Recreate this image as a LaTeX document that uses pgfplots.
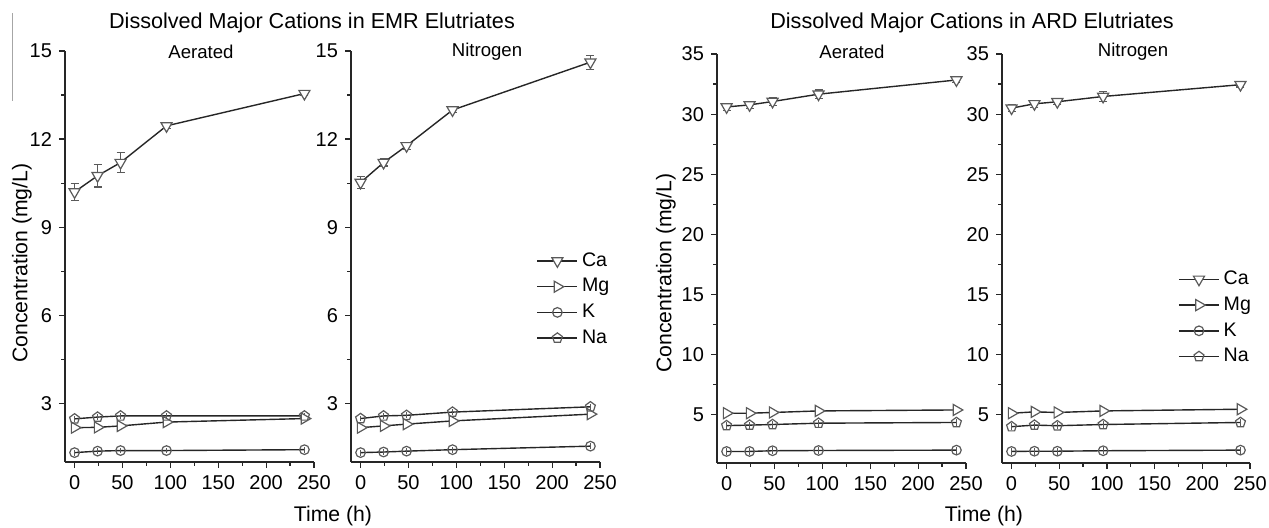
\documentclass[border=0pt]{standalone}
\usepackage{fontspec}
\setmainfont{Liberation Sans}
\usepackage{pgfplots}
\pgfplotsset{compat=1.18}

\definecolor{ln}{HTML}{262626}
\definecolor{mk}{HTML}{5A5A5A}

\pgfplotsset{
  panel/.style={
    scale only axis, width=124.5pt, height=205.5pt, anchor=south west,
    axis x line*=bottom, axis y line*=left,
    tick align=outside, major tick length=3pt, minor tick length=1.8pt,
    axis line style={line width=0.6pt, ln}, every tick/.style={line width=0.6pt, ln},
    xmin=-10, xmax=250, xtick={0,50,...,250}, minor x tick num=1,
    minor y tick num=1, clip=false,
    /pgf/number format/assume math mode=true,
    tick label style={font=\fontsize{10}{12}\selectfont},
    legend style={draw=none, fill=none, font=\fontsize{9.8}{11}\selectfont,
      row sep=0.6pt, cells={anchor=west}},
    legend image code/.code={\draw[mark repeat=2,mark phase=2,##1]
      plot coordinates {(0pt,0pt)(10pt,0pt)(20pt,0pt)};},
  },
  ser/.style={line width=0.7pt, ln},
  ca/.style={ser, mark=triangle*, mark size=3.2pt,
    mark options={solid, draw=mk, fill=white, line width=0.6pt, rotate=180}},
  mg/.style={ser, mark=triangle*, mark size=3.2pt,
    mark options={solid, draw=mk, fill=white, line width=0.6pt, rotate=-90}},
  kk/.style={ser, mark=o, mark size=2.4pt,
    mark options={solid, draw=mk, line width=0.6pt}},
  na/.style={ser, mark=pentagon, mark size=2.6pt,
    mark options={solid, draw=mk, line width=0.6pt}},
  eb/.style={error bars/.cd, y dir=both, y explicit,
    error bar style={line width=0.6pt, mk}, error mark options={mark size=2pt, line width=0.6pt, mk, rotate=90}},
  ebn/.style={error bars/.cd, y dir=both, y explicit,
    error bar style={line width=0.5pt, mk}, error mark=none},
}

\begin{document}
\begin{tikzpicture}
\useasboundingbox (0,0) rectangle (634.5pt,263.5pt);

% EMR, aerated
\begin{axis}[panel, at={(32.5pt,32.5pt)}, ymin=1, ymax=15, ytick={3,6,...,15}]
\addplot[ca, eb] coordinates {(0,10.2)+-(0,0.3) (24,10.75)+-(0,0.38) (48,11.2)+-(0,0.33) (96,12.45)+-(0,0.1) (240,13.55)+-(0,0.05)};
\addplot[mg] coordinates {(0,2.17)(24,2.18)(48,2.23)(96,2.36)(240,2.48)};
\addplot[kk, ebn] coordinates {(0,1.32)+-(0,0.1) (24,1.37)+-(0,0.1) (48,1.39)+-(0,0.1) (96,1.39)+-(0,0.1) (240,1.42)+-(0,0.1)};
\addplot[na, ebn] coordinates {(0,2.47)+-(0,0.1) (24,2.53)+-(0,0.1) (48,2.57)+-(0,0.1) (96,2.57)+-(0,0.1) (240,2.57)+-(0,0.1)};
\end{axis}

% EMR, nitrogen
\begin{axis}[panel, at={(175.5pt,32.5pt)}, ymin=1, ymax=15, ytick={3,6,...,15},
  legend style={at={(rel axis cs:0.72,0.53)}, anchor=north west}]
\addplot[ca, eb] coordinates {(0,10.52)+-(0,0.2) (24,11.2)+-(0,0.12) (48,11.77)+-(0,0.12) (96,12.99)+-(0,0.08) (240,14.62)+-(0,0.24)};
\addlegendentry{Ca}
\addplot[mg] coordinates {(0,2.17)(24,2.23)(48,2.29)(96,2.4)(240,2.63)};
\addlegendentry{Mg}
\addplot[kk, ebn] coordinates {(0,1.32)+-(0,0.1) (24,1.34)+-(0,0.1) (48,1.37)+-(0,0.1) (96,1.42)+-(0,0.1) (240,1.54)+-(0,0.1)};
\addlegendentry{K}
\addplot[na, ebn] coordinates {(0,2.48)+-(0,0.1) (24,2.57)+-(0,0.1) (48,2.59)+-(0,0.1) (96,2.7)+-(0,0.1) (240,2.88)+-(0,0.1)};
\addlegendentry{Na}
\end{axis}

% ARD, aerated
\begin{axis}[panel, at={(358.5pt,32pt)}, height=204.5pt, ymin=1, ymax=35, ytick={5,10,...,35}]
\addplot[ca, eb] coordinates {(0,30.6)+-(0,0.3) (24,30.77)+-(0,0.3) (48,31.05)+-(0,0.3) (96,31.66)+-(0,0.35) (240,32.84)+-(0,0.2)};
\addplot[mg] coordinates {(0,5.14)(24,5.14)(48,5.2)(96,5.33)(240,5.41)};
\addplot[kk, ebn] coordinates {(0,1.96)+-(0,0.3) (24,1.96)+-(0,0.3) (48,2.02)+-(0,0.3) (96,2.04)+-(0,0.3) (240,2.07)+-(0,0.3)};
\addplot[na, ebn] coordinates {(0,4.11)+-(0,0.3) (24,4.15)+-(0,0.3) (48,4.2)+-(0,0.3) (96,4.31)+-(0,0.3) (240,4.37)+-(0,0.3)};
\end{axis}

% ARD, nitrogen
\begin{axis}[panel, at={(501pt,32pt)}, width=124pt, height=204.5pt, ymin=1, ymax=35, ytick={5,10,...,35},
  legend style={at={(rel axis cs:0.685,0.49)}, anchor=north west}]
\addplot[ca, eb] coordinates {(0,30.5)+-(0,0.3) (24,30.86)+-(0,0.3) (48,31.03)+-(0,0.2) (96,31.47)+-(0,0.4) (240,32.45)+-(0,0.2)};
\addlegendentry{Ca}
\addplot[mg] coordinates {(0,5.14)(24,5.25)(48,5.2)(96,5.33)(240,5.47)};
\addlegendentry{Mg}
\addplot[kk, ebn] coordinates {(0,1.96)+-(0,0.3) (24,1.98)+-(0,0.3) (48,1.98)+-(0,0.3) (96,2.02)+-(0,0.3) (240,2.07)+-(0,0.3)};
\addlegendentry{K}
\addplot[na, ebn] coordinates {(0,4.02)+-(0,0.3) (24,4.15)+-(0,0.3) (48,4.1)+-(0,0.3) (96,4.2)+-(0,0.3) (240,4.37)+-(0,0.3)};
\addlegendentry{Na}
\end{axis}

% titles and labels
\node[font=\fontsize{10.8}{12}\selectfont] at (156pt,252pt) {Dissolved Major Cations in EMR Elutriates};
\node[font=\fontsize{10.8}{12}\selectfont] at (486pt,252pt) {Dissolved Major Cations in ARD Elutriates};
\node[font=\fontsize{9.3}{11}\selectfont] at (100.5pt,237.5pt) {Aerated};
\node[font=\fontsize{9.3}{11}\selectfont] at (243.5pt,237.5pt) {Nitrogen};
\node[font=\fontsize{9.3}{11}\selectfont] at (426pt,237.5pt) {Aerated};
\node[font=\fontsize{9.3}{11}\selectfont] at (566.5pt,237.5pt) {Nitrogen};
\node[font=\fontsize{10.6}{12}\selectfont, rotate=90] at (11pt,132pt) {Concentration (mg/L)};
\node[font=\fontsize{10.6}{12}\selectfont, rotate=90] at (333pt,127pt) {Concentration (mg/L)};
\node[font=\fontsize{10.6}{12}\selectfont] at (166.5pt,5.5pt) {Time (h)};
\node[font=\fontsize{10.6}{12}\selectfont] at (492pt,5.5pt) {Time (h)};
\draw[gray!70, line width=0.6pt] (6.3pt,257pt) -- (6.3pt,213pt);
\end{tikzpicture}
\end{document}
